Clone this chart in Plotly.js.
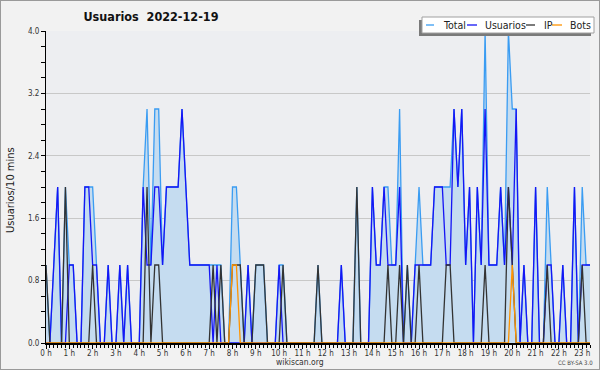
<!DOCTYPE html>
<html>
<head>
<meta charset="utf-8">
<script src="https://cdn.plot.ly/plotly-3.0.1.min.js"></script>
<style>
html,body{margin:0;padding:0;background:#f2f2f2;}
#frame{position:absolute;left:0;top:0;width:600px;height:370px;box-sizing:border-box;border:1px solid #9a9a9a;background:#f2f2f2;}
#chart{position:absolute;left:0;top:0;width:598px;height:368px;}
</style>
</head>
<body>
<div id="frame"><div id="chart"></div></div>
<script>
// 10-minute slots from 00:00 to 23:20
const slotMinutes = 10;
const total    = [1,0,1,2,0,2,1,1,0,0, 2,2,2,1,0,0,1,0,0,1, 0,1,0,0,0,2,3,1,3,3, 1,2,2,2,2,3,2,1,1,1, 1,1,1,1,1,1,0,0,2,2, 1,0,1,0,1,1,1,0,0,0, 1,1,0,0,0,0,0,0,0,0, 1,0,0,0,0,0,1,0,0,0, 2,0,0,0,2,1,1,2,2,1, 1,3,0,1,0,1,2,1,1,1, 2,2,2,2,2,3,2,3,1,2, 0,2,1,4,1,1,1,2,1,4, 3,3,0,1,0,0,2,0,0,2, 1,0,0,1,0,0,2,0,2,1, 1];
const usuarios = [0,0,1,2,0,0,1,1,0,0, 2,2,1,1,0,0,1,0,0,1, 0,1,0,0,0,2,1,1,2,2, 1,2,2,2,2,3,2,1,1,1, 1,1,1,0,1,0,0,0,0,0, 0,0,1,0,0,0,0,0,0,0, 1,0,0,0,0,0,0,0,0,0, 0,0,0,0,0,0,1,0,0,0, 0,0,0,0,2,1,1,2,1,1, 1,2,0,0,0,1,1,1,1,1, 2,2,2,1,1,3,2,3,1,2, 0,2,1,3,1,1,1,2,1,2, 1,3,0,1,0,0,2,0,0,1, 1,0,0,1,0,0,2,0,1,1, 1];
const ip       = [1,0,0,0,0,2,0,0,0,0, 0,0,1,0,0,0,0,0,0,0, 0,0,0,0,0,0,2,0,1,1, 0,0,0,0,0,0,0,0,0,0, 0,0,0,1,0,1,0,0,1,1, 1,0,0,0,1,1,1,0,0,0, 0,1,0,0,0,0,0,0,0,0, 1,0,0,0,0,0,0,0,0,0, 2,0,0,0,0,0,0,0,1,0, 0,1,0,1,0,0,1,0,0,0, 0,0,0,1,1,0,0,0,0,0, 0,0,0,1,0,0,0,0,0,2, 1,0,0,0,0,0,0,0,0,1, 0,0,0,0,0,0,0,0,1,0, 0];
const bots     = [0,0,0,0,0,0,0,0,0,0, 0,0,0,0,0,0,0,0,0,0, 0,0,0,0,0,0,0,0,0,0, 0,0,0,0,0,0,0,0,0,0, 0,0,0,0,0,0,0,0,1,1, 0,0,0,0,0,0,0,0,0,0, 0,0,0,0,0,0,0,0,0,0, 0,0,0,0,0,0,0,0,0,0, 0,0,0,0,0,0,0,0,0,0, 0,0,0,0,0,0,0,0,0,0, 0,0,0,0,0,0,0,0,0,0, 0,0,0,0,0,0,0,0,0,0, 1,0,0,0,0,0,0,0,0,0, 0,0,0,0,0,0,0,0,0,0, 0];
const hourTicks = [0,1,2,3,4,5,6,7,8,9,10,11,12,13,14,15,16,17,18,19,20,21,22,23];
const hourLabels = ["0 h","1 h","2 h","3 h","4 h","5 h","6 h","7 h","8 h","9 h","10 h","11 h","12 h","13 h","14 h","15 h","16 h","17 h","18 h","19 h","20 h","21 h","22 h","23 h"];
const yTicks = [0,0.8,1.6,2.4,3.2,4.0];
const seriesNames = ["Total","Usuarios","IP","Bots"];
const seriesColors = ["#3a9cf2","#1515f5","#333333","#ff9400"];

const hours = total.map((_, i) => i * slotMinutes / 60);
const F = "DejaVu Sans Condensed, DejaVu Sans, sans-serif";

const traces = [
  {x: hours, y: total, name: seriesNames[0], mode: "lines", line: {color: seriesColors[0], width: 1.3}, fill: "tozeroy", fillcolor: "#c5dcf0"},
  {x: hours, y: usuarios, name: seriesNames[1], mode: "lines", line: {color: seriesColors[1], width: 1.3}},
  {x: hours, y: ip, name: seriesNames[2], mode: "lines", line: {color: seriesColors[2], width: 1.3}},
  {x: hours, y: bots, name: seriesNames[3], mode: "lines", line: {color: seriesColors[3], width: 1.3}}
];

// plot area in div pixels
const L = 45, R = 589, T = 30, B = 342, W = 598, H = 368;
const px = v => (v - 1 - L) / (R - L);     // image x -> paper
const py = v => (B - (v - 1)) / (B - T);   // image y -> paper

const shapes = [
  {type: "rect", xref: "paper", yref: "paper", x0: px(419), x1: px(591), y0: py(36), y1: py(20), fillcolor: "#7a7a7a", line: {width: 0}, layer: "above"},
  {type: "rect", xref: "paper", yref: "paper", x0: px(422), x1: px(594), y0: py(33), y1: py(17), fillcolor: "#ffffff", line: {width: 1, color: "#a0a0a0"}, layer: "above"}
];
const legLines = [[426,434],[467,477],[526,535],[552,562]];
const legText = [441,483,542,568];
const annotations = [];
seriesNames.forEach((n, k) => {
  shapes.push({type: "line", xref: "paper", yref: "paper", x0: px(legLines[k][0]), x1: px(legLines[k][1]), y0: py(25), y1: py(25), line: {color: seriesColors[k], width: 1.3}, layer: "above"});
  annotations.push({xref: "paper", yref: "paper", x: px(legText[k]), y: py(25), xanchor: "left", yanchor: "middle", text: n, showarrow: false, font: {family: F, size: 10.5, color: "#222"}});
});
annotations.push({xref: "paper", yref: "paper", x: px(10), y: py(190), xanchor: "center", yanchor: "middle", textangle: -90, text: "Usuarios/10 mins", showarrow: false, font: {family: F, size: 11, color: "#222"}});
annotations.push({xref: "paper", yref: "paper", x: px(300), y: py(362), xanchor: "center", yanchor: "middle", text: "wikiscan.org", showarrow: false, font: {family: F, size: 8.5, color: "#333"}});
annotations.push({xref: "paper", yref: "paper", x: px(595), y: py(362), xanchor: "right", yanchor: "middle", text: "CC BY-SA 3.0", showarrow: false, font: {family: F, size: 6, color: "#444"}});

const layout = {
  width: W, height: H,
  margin: {l: L, r: W - R, t: T, b: H - B, pad: 0},
  paper_bgcolor: "#f2f2f2",
  plot_bgcolor: "#edeef1",
  showlegend: false,
  title: {text: "Usuarios\u00a0\u00a02022-12-19", xref: "container", x: 150 / W, xanchor: "center", yref: "container", y: 1 - 16 / H, yanchor: "middle", font: {family: F, size: 12.5, color: "#111", weight: "bold"}},
  xaxis: {
    range: [0, hours[hours.length - 1]], tickvals: hourTicks, ticktext: hourLabels,
    showgrid: false, zeroline: false, showline: true, linecolor: "#000", linewidth: 2, layer: "above traces",
    ticks: "outside", ticklen: 4, tickcolor: "#000", tickwidth: 1, ticklabelstandoff: -3,
    minor: {dtick: slotMinutes / 60, tick0: 0, ticks: "outside", ticklen: 3, tickcolor: "#000", showgrid: false},
    tickfont: {family: F, size: 8, color: "#333"}, fixedrange: true
  },
  yaxis: {
    range: [0, 4], tickvals: yTicks, tickformat: ".1f",
    showgrid: true, gridcolor: "#c8c8c8", gridwidth: 1, zeroline: false,
    showline: true, linecolor: "#000", linewidth: 1,
    ticks: "outside", ticklen: 4, tickcolor: "#000",
    minor: {dtick: 0.2, ticks: "outside", ticklen: 4, tickcolor: "#000", showgrid: false},
    tickfont: {family: F, size: 8, color: "#333"}, fixedrange: true
  },
  shapes: shapes,
  annotations: annotations
};

Plotly.newPlot("chart", traces, layout, {staticPlot: true, displayModeBar: false});
</script>
</body>
</html>
